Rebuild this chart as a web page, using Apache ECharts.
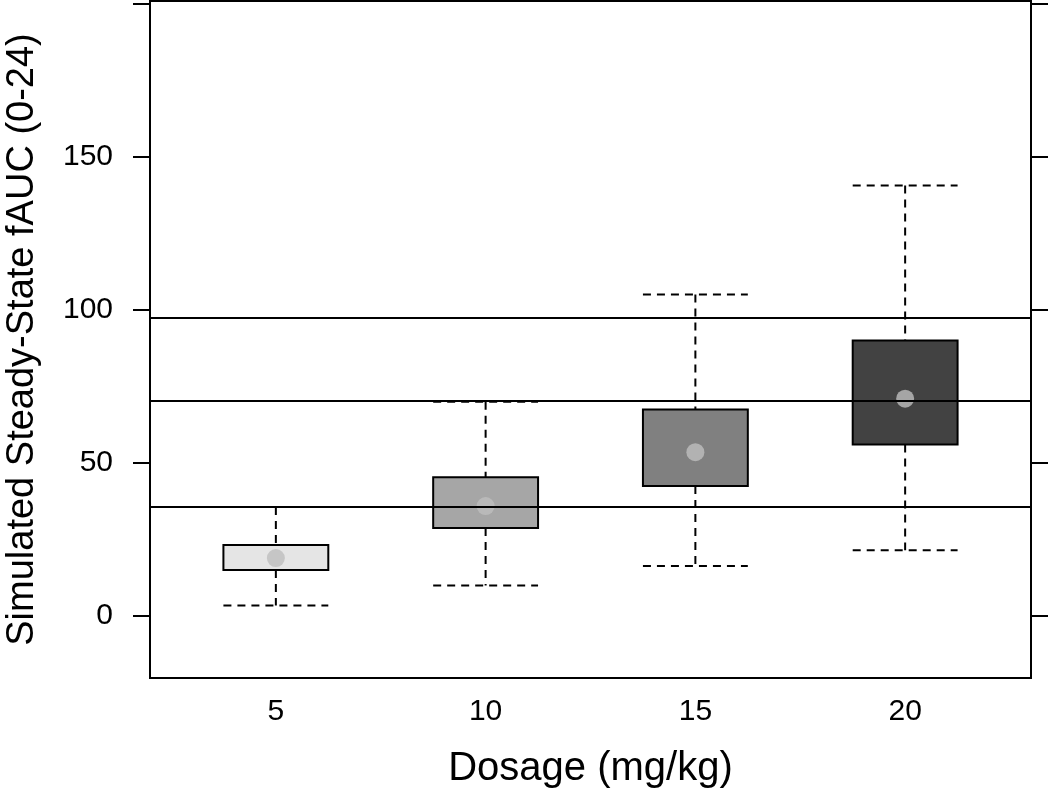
<!DOCTYPE html>
<html>
<head>
<meta charset="utf-8">
<script src="https://cdn.jsdelivr.net/npm/echarts@6/dist/echarts.min.js"></script>
<style>
html,body{margin:0;padding:0;background:#fff;}
#chart{width:1050px;height:792px;}
</style>
</head>
<body>
<div id="chart"></div>
<script>
// ---- data ----
const doses = ['5', '10', '15', '20'];
const lowerWhisker = [3.4, 9.9, 16.3, 21.5];
const q1 = [15.0, 28.7, 42.5, 56.0];
const medianVals = [18.9, 35.9, 53.5, 71.0];
const q3 = [23.2, 45.3, 67.5, 90.0];
const upperWhisker = [35.6, 70.0, 105.1, 140.7];
const refLines = [35.7, 70.3, 97.3];
const yTickLabels = [0, 50, 100, 150];
const yTickMarks = [0, 50, 100, 150, 200];
const xTitle = 'Dosage (mg/kg)';
const yTitle = 'Simulated Steady-State fAUC (0-24)';

// ---- styling ----
const boxFills = ['#e5e5e5', '#a6a6a6', '#808080', '#424242'];
const font = 'Liberation Sans, Arial, sans-serif';

const boxData = doses.map((d, i) => [i + 1, lowerWhisker[i], q1[i], medianVals[i], q3[i], upperWhisker[i]]);
const medData = doses.map((d, i) => [i + 1, medianVals[i]]);

const chart = echarts.init(document.getElementById('chart'), null, {renderer: 'canvas'});
chart.setOption({
  animation: false,
  backgroundColor: '#fff',
  grid: {left: 150, right: 19, top: 1, bottom: 114, show: true, borderColor: '#000', borderWidth: 2,
    backgroundColor: 'transparent', containLabel: false, outerBoundsMode: 'none'},
  xAxis: {
    type: 'value', min: 0.4, max: 4.6,
    axisLine: {show: false},
    axisTick: {show: false},
    splitLine: {show: false},
    axisLabel: {
      customValues: [1, 2, 3, 4],
      formatter: v => doses[Math.round(v) - 1],
      fontSize: 30, color: '#000', fontFamily: font, margin: 19
    },
    name: xTitle, nameLocation: 'middle', nameGap: 71,
    nameTextStyle: {fontSize: 40, color: '#000', fontFamily: font}
  },
  yAxis: [{
    type: 'value', min: -20.3, max: 201, position: 'left',
    axisLine: {show: false},
    splitLine: {show: false},
    axisTick: {show: true, inside: false, length: 17, customValues: yTickMarks, lineStyle: {color: '#000', width: 2}},
    axisLabel: {customValues: yTickLabels, fontSize: 30, color: '#000', fontFamily: font, margin: 37},
    name: yTitle, nameLocation: 'middle', nameGap: 108,
    nameTextStyle: {fontSize: 38, color: '#000', fontFamily: font}
  }, {
    type: 'value', min: -20.3, max: 201, position: 'right',
    axisLine: {show: false},
    splitLine: {show: false},
    axisTick: {show: true, inside: false, length: 17, customValues: yTickMarks, lineStyle: {color: '#000', width: 2}},
    axisLabel: {show: false}
  }],
  series: [
    {
      type: 'line', data: [], silent: true, z: 1,
      markLine: {
        silent: true, symbol: 'none', animation: false,
        label: {show: false},
        lineStyle: {color: '#000', width: 2, type: 'solid'},
        data: refLines.map(v => ({yAxis: v}))
      }
    },
    {
      type: 'custom', z: 2, data: boxData,
      renderItem: function (params, api) {
        const x = api.value(0);
        const half = api.size([0.5, 0])[0] / 2;
        const pLow = api.coord([x, api.value(1)]);
        const pQ1 = api.coord([x, api.value(2)]);
        const pQ3 = api.coord([x, api.value(4)]);
        const pHigh = api.coord([x, api.value(5)]);
        const dash = {stroke: '#000', lineWidth: 2, lineDash: [8, 6]};
        return {
          type: 'group',
          children: [
            {type: 'line', shape: {x1: pHigh[0], y1: pHigh[1], x2: pQ3[0], y2: pQ3[1]}, style: dash},
            {type: 'line', shape: {x1: pQ1[0], y1: pQ1[1], x2: pLow[0], y2: pLow[1]}, style: dash},
            {type: 'line', shape: {x1: pHigh[0] - half, y1: pHigh[1], x2: pHigh[0] + half, y2: pHigh[1]}, style: dash},
            {type: 'line', shape: {x1: pLow[0] - half, y1: pLow[1], x2: pLow[0] + half, y2: pLow[1]}, style: dash},
            {type: 'rect', shape: {x: pQ3[0] - half, y: pQ3[1], width: half * 2, height: pQ1[1] - pQ3[1]},
              style: {fill: boxFills[params.dataIndex], stroke: '#000', lineWidth: 2}}
          ]
        };
      }
    },
    {
      type: 'scatter', z: 3, data: medData, symbol: 'circle', symbolSize: 18,
      itemStyle: {color: '#bebebe'}, silent: true
    }
  ]
});
</script>
</body>
</html>
